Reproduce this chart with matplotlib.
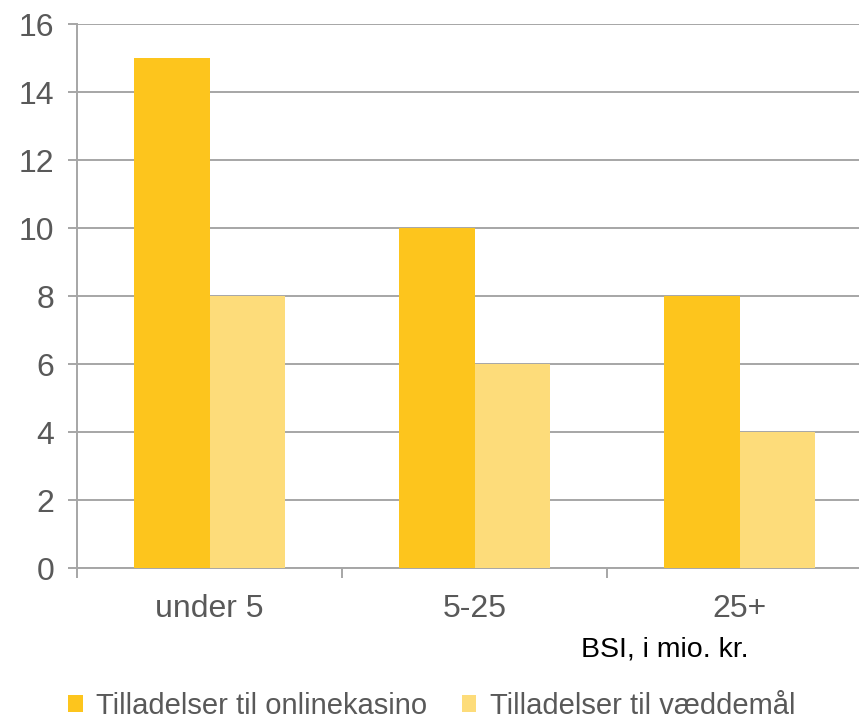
import matplotlib
matplotlib.use("Agg")
import matplotlib.pyplot as plt
import numpy as np

categories = ["under 5", "5-25", "25+"]
online_casino = [15, 10, 8]
betting = [8, 6, 4]
series_labels = ["Tilladelser til onlinekasino", "Tilladelser til væddemål"]

plt.rcParams["font.family"] = ["Liberation Sans", "DejaVu Sans"]
grey = "#595959"
line_grey = "#A6A6A6"
c_dark = "#FDC51D"
c_light = "#FDDC7A"

fig = plt.figure(figsize=(8.59, 7.2), dpi=100)
ax = fig.add_axes([77 / 859, 1 - 568 / 720, 795 / 859, 544 / 720])

x = np.arange(len(categories))
w = 0.284
b1 = ax.bar(x - w / 2, online_casino, width=w, color=c_dark, label=series_labels[0], zorder=3)
b2 = ax.bar(x + w / 2, betting, width=w, color=c_light, label=series_labels[1], zorder=3)

ax.set_xlim(-0.5, 2.5)
ax.set_ylim(0, 16)
ax.set_yticks(range(0, 17, 2))
ax.yaxis.grid(True, color=line_grey, lw=1.4, zorder=0)
ax.set_axisbelow(True)

ax.set_xticks(x)
ax.set_xticklabels(categories)
ax.set_xticks([-0.5, 0.5, 1.5], minor=True)
ax.tick_params(axis="x", which="major", length=0, pad=19, labelsize=23, labelcolor=grey)
ax.tick_params(axis="x", which="minor", length=7, width=1.4, color=line_grey, direction="out")
ax.tick_params(axis="y", length=6.5, width=1.4, color=line_grey, pad=10, labelsize=23, labelcolor=grey)

for s in ["top", "right"]:
    ax.spines[s].set_visible(False)
for s in ["left", "bottom"]:
    ax.spines[s].set_color(line_grey)
    ax.spines[s].set_linewidth(1.4)

fig.text(665 / 859, 1 - 650 / 720, "BSI, i mio. kr.", fontsize=20.5, color="black", ha="center", va="center")

fig.legend(handles=[b1, b2], labels=series_labels, loc="center left",
           bbox_to_anchor=(68 / 859, 1 - 706 / 720), ncol=2, frameon=False,
           fontsize=21, labelcolor=grey, handlelength=0.5, handleheight=0.5,
           handletextpad=0.45, columnspacing=1.2, borderpad=0, borderaxespad=0)

fig.savefig("out.png", dpi=100)
